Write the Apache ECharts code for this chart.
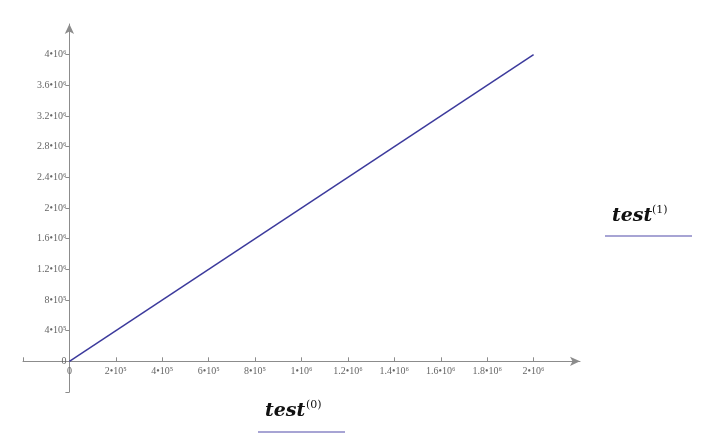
<!DOCTYPE html>
<html>
<head>
<meta charset="utf-8">
<script src="https://cdn.jsdelivr.net/npm/echarts@6/dist/echarts.min.js"></script>
<style>
  html, body { margin: 0; padding: 0; background: #fff; }
  #main { width: 718px; height: 439px; }
</style>
</head>
<body>
<div id="main"></div>
<script>
// test column 0 (x) and column 1 (y)
var testX = [0, 2000000];
var testY = [0, 4000000];
// tick positions
var xTicks = [-200000, 0, 200000, 400000, 600000, 800000, 1000000, 1200000, 1400000, 1600000, 1800000, 2000000];
var yTicks = [-400000, 0, 400000, 800000, 1200000, 1600000, 2000000, 2400000, 2800000, 3200000, 3600000, 4000000];
var xTitle = ['test', '(0)'];
var yTitle = ['test', '(1)'];

var SUP = { '0': '⁰', '1': '¹', '2': '²', '3': '³', '4': '⁴', '5': '⁵', '6': '⁶', '7': '⁷', '8': '⁸', '9': '⁹' };

function sciLabel(v) {
  if (v === 0) return '0';
  var e = Math.floor(Math.log10(Math.abs(v)) + 1e-9);
  var m = +(v / Math.pow(10, e)).toFixed(3);
  return m + '•10' + String(e).split('').map(function (c) { return SUP[c] || c }).join('');
}

function chartLine() {
  var myChart = echarts.init(document.getElementById('main'));
  var points = testX.map(function (x, i) { return [x, testY[i]] });
  var option = {
    animation: false,
    grid: {
      left: 23,
      right: 138,
      top: 24,
      bottom: 47,
      containLabel: false,
      outerBoundsMode: 'none'
    },
    xAxis: {
      type: 'value',
      min: -200000,
      max: 2200000,
      interval: 200000,
      offset: -30.7,
      splitLine: { show: false },
      axisLine: {
        onZero: false,
        symbol: ['none', 'arrow'],
        symbolSize: [7, 10],
        lineStyle: { color: '#8c8c8c', width: 1 }
      },
      axisTick: {
        inside: true,
        length: 4,
        customValues: xTicks,
        lineStyle: { color: '#8c8c8c' }
      },
      axisLabel: {
        color: '#666',
        fontFamily: 'Liberation Serif',
        fontSize: 10,
        margin: 5,
        customValues: xTicks.filter(function (v) { return v >= 0 }),
        formatter: sciLabel
      }
    },
    yAxis: {
      type: 'value',
      min: -400000,
      max: 4400000,
      interval: 400000,
      offset: -46.4,
      splitLine: { show: false },
      axisLine: {
        onZero: false,
        symbol: ['none', 'arrow'],
        symbolSize: [7, 10],
        lineStyle: { color: '#8c8c8c', width: 1 }
      },
      axisTick: {
        length: 4,
        customValues: yTicks,
        lineStyle: { color: '#8c8c8c' }
      },
      axisLabel: {
        color: '#666',
        fontFamily: 'Liberation Serif',
        fontSize: 10,
        margin: 3,
        customValues: yTicks.filter(function (v) { return v >= 0 }),
        formatter: sciLabel
      }
    },
    graphic: [
      {
        type: 'text', left: 265, top: 402,
        style: { text: xTitle[0], font: 'italic bold 19px "DejaVu Serif"', fill: '#111' }
      },
      {
        type: 'text', left: 306, top: 400,
        style: { text: xTitle[1], font: '11px "DejaVu Serif"', fill: '#111' }
      },
      {
        type: 'line', shape: { x1: 258, y1: 432, x2: 345, y2: 432 },
        style: { stroke: '#8a86c6', lineWidth: 1.5 }
      },
      {
        type: 'text', left: 612, top: 207,
        style: { text: yTitle[0], font: 'italic bold 19px "DejaVu Serif"', fill: '#111' }
      },
      {
        type: 'text', left: 652, top: 205,
        style: { text: yTitle[1], font: '11px "DejaVu Serif"', fill: '#111' }
      },
      {
        type: 'line', shape: { x1: 605, y1: 236, x2: 692, y2: 236 },
        style: { stroke: '#8a86c6', lineWidth: 1.5 }
      }
    ],
    series: [{
      type: 'line',
      data: points,
      showSymbol: false,
      lineStyle: { color: '#3c3a9c', width: 1.5 }
    }]
  };
  myChart.setOption(option);
}

chartLine()
</script>
</body>
</html>
